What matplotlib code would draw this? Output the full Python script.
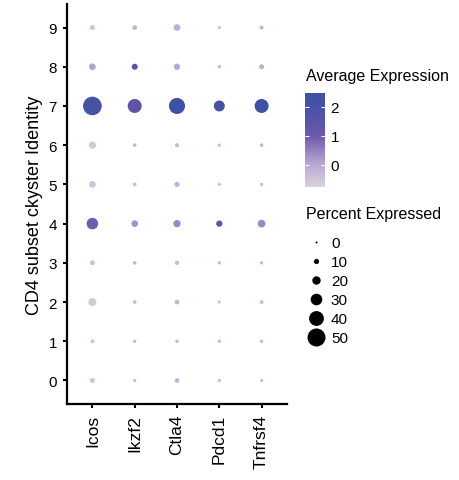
import numpy as np
import pandas as pd
import matplotlib
matplotlib.use("Agg")
import matplotlib.pyplot as plt
from matplotlib.colors import LinearSegmentedColormap, Normalize
from matplotlib.cm import ScalarMappable
from matplotlib.lines import Line2D

plt.rcParams['font.family'] = ['Liberation Sans', 'DejaVu Sans']

genes = ['Icos', 'Ikzf2', 'Ctla4', 'Pdcd1', 'Tnfrsf4']
clusters = [str(i) for i in range(10)]

# percent expressed, rows = cluster 0..9, cols = genes
pct_exp = [
    [9.4, 4.0, 8.4, 4.0, 4.0],
    [6.2, 4.7, 4.7, 4.7, 4.7],
    [18.7, 5.3, 8.4, 3.1, 5.3],
    [9.4, 5.3, 7.3, 4.0, 4.0],
    [30.0, 14.7, 16.5, 13.4, 18.0],
    [14.7, 5.3, 10.3, 3.1, 4.0],
    [16.5, 5.3, 6.2, 4.0, 5.3],
    [52.0, 37.5, 44.0, 28.0, 37.5],
    [14.7, 12.5, 13.4, 4.0, 9.4],
    [9.4, 8.4, 14.7, 3.1, 6.2],
]

# scaled average expression
avg_exp = [
    [-0.5, -0.3, -0.2, -0.35, -0.35],
    [-0.5, -0.3, -0.3, -0.35, -0.35],
    [-0.6, -0.3, -0.2, -0.35, -0.3],
    [-0.45, -0.3, -0.3, -0.3, -0.3],
    [0.95, 0.3, 0.4, 1.5, 0.4],
    [-0.5, -0.3, -0.2, -0.35, -0.35],
    [-0.6, -0.3, -0.25, -0.35, -0.3],
    [2.0, 1.4, 2.45, 2.0, 2.45],
    [0.1, 1.6, 0.05, -0.2, -0.1],
    [-0.5, -0.2, -0.1, -0.3, -0.2],
]

size_breaks = [0, 10, 20, 30, 40, 50]
color_ticks = [0, 1, 2]
vmin, vmax = -0.76, 2.48

df = pd.DataFrame({
    'cluster': np.repeat(np.arange(len(clusters)), len(genes)),
    'gene': np.tile(np.arange(len(genes)), len(clusters)),
    'pct': np.ravel(pct_exp),
    'avg': np.ravel(avg_exp),
})


def dot_area(pct):
    # diameter grows linearly with percent (ggplot scale_radius style)
    d_px = 2.0 + 0.32 * np.asarray(pct)
    return (d_px * 0.72) ** 2


cmap = LinearSegmentedColormap.from_list(
    'avgexp',
    [(0.0, '#D6D4DA'), (0.24, '#BBA7D4'), (0.55, '#6D57A8'),
     (0.86, '#4652A5'), (1.0, '#3C52A4')])
norm = Normalize(vmin=vmin, vmax=vmax)

fig = plt.figure(figsize=(4.6, 4.81), dpi=100)
ax = fig.add_axes([67 / 460, 76 / 481, 220 / 460, 400 / 481])

ax.scatter(df['gene'], df['cluster'], s=dot_area(df['pct']), c=df['avg'],
           cmap=cmap, norm=norm, linewidths=0, zorder=3)

ax.set_xlim(-0.6, len(genes) - 0.4)
ax.set_ylim(-0.6, len(clusters) - 0.4)
ax.set_xticks(range(len(genes)))
ax.set_xticklabels(genes, rotation=90, fontsize=12.5)
ax.set_yticks(range(len(clusters)))
ax.set_yticklabels(clusters, fontsize=11)
ax.set_ylabel('CD4 subset ckyster Identity', fontsize=13)
for side in ['top', 'right']:
    ax.spines[side].set_visible(False)
for side in ['left', 'bottom']:
    ax.spines[side].set_linewidth(1.6)
ax.tick_params(length=3.2, width=1.5, pad=4)

# colour bar
cax = fig.add_axes([305 / 460, (481 - 188) / 481, 20 / 460, 94 / 481])
cb = fig.colorbar(ScalarMappable(norm=norm, cmap=cmap), cax=cax, ticks=color_ticks)
cb.outline.set_visible(False)
cax.tick_params(which='major', direction='in', color='white', length=3,
                width=0.8, left=True, right=True, labelsize=11, pad=4)
cax.minorticks_off()
fig.text(306 / 460, 1 - 77 / 481, 'Average Expression', fontsize=11.5, va='center')

# size legend
fig.text(306 / 460, 1 - 215 / 481, 'Percent Expressed', fontsize=11.5, va='center')
handles = [Line2D([], [], marker='o', ls='', color='black', markeredgewidth=0,
                  markersize=np.sqrt(dot_area(b))) for b in size_breaks]
leg = fig.legend(handles, [str(b) for b in size_breaks],
                 loc='upper left', bbox_to_anchor=(306.5 / 460, 1 - 237.5 / 481),
                 frameon=False, fontsize=11, borderpad=0,
                 labelspacing=0.32, handletextpad=0.4, handlelength=1.2,
                 borderaxespad=0)

fig.savefig('out.png', dpi=100)
